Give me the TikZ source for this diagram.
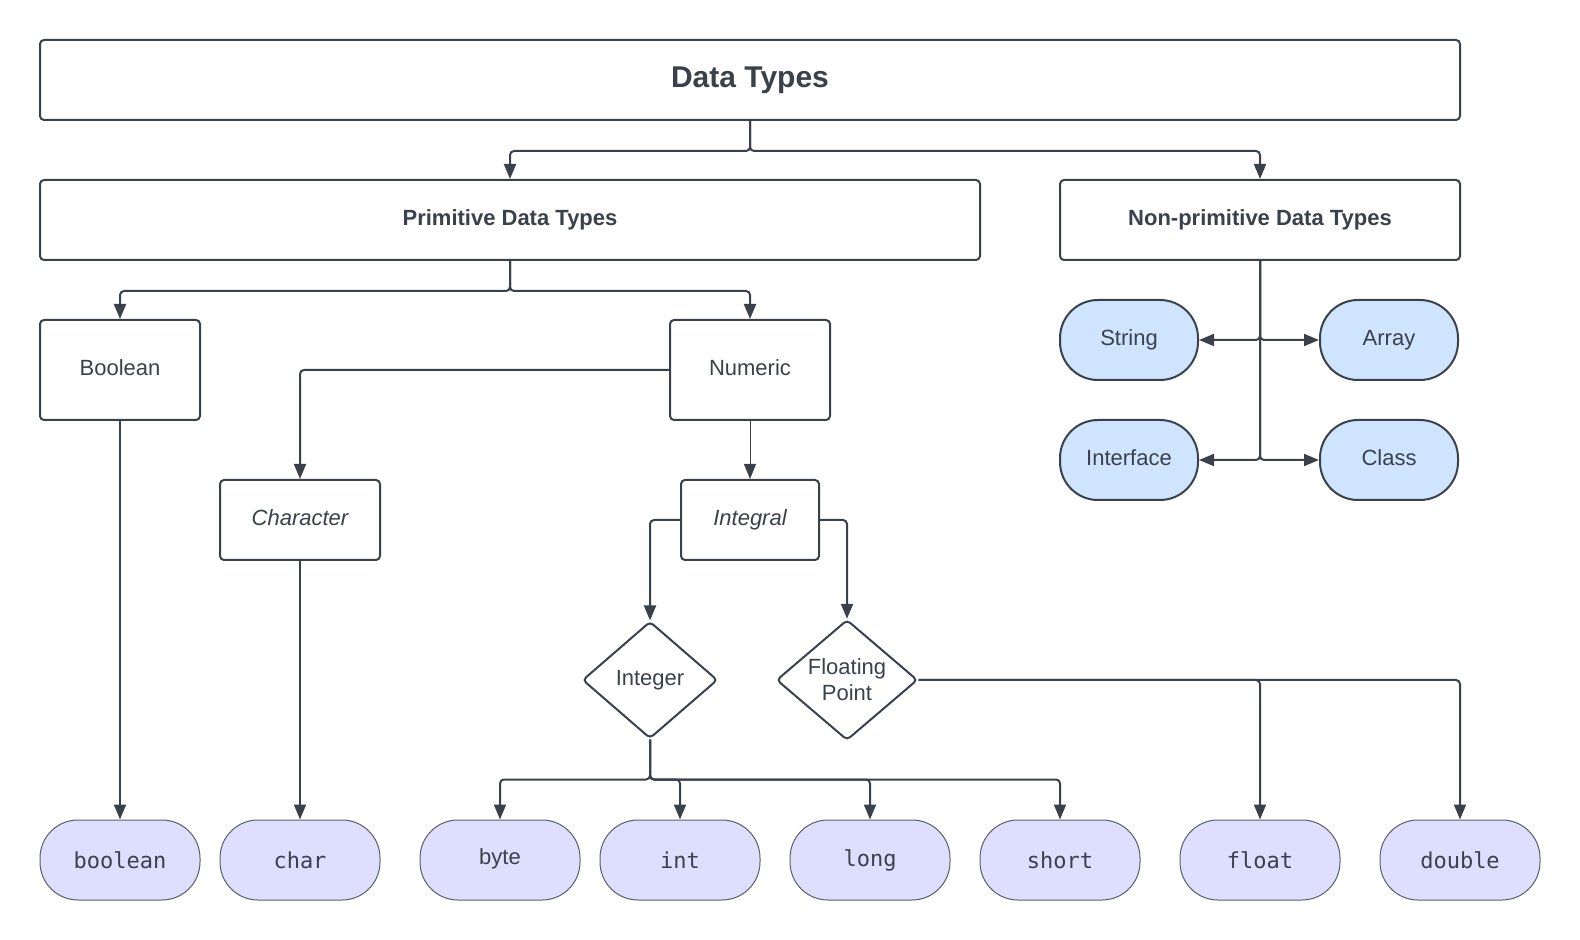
\documentclass[tikz,border=0pt]{standalone}
\usepackage{fontspec}
\setmainfont{Liberation Sans}
\setmonofont{DejaVu Sans Mono}
\usetikzlibrary{positioning,arrows.meta,shapes.geometric}
\definecolor{ink}{HTML}{3A414B}
\definecolor{lavender}{HTML}{DEDEFF}
\definecolor{skyfill}{HTML}{CFE4FF}
\definecolor{rimgray}{HTML}{5A5F66}

\begin{document}
\begin{tikzpicture}[x=0.5pt,y=-0.5pt,font=\fontsize{11}{13}\selectfont,text=ink]
  \tikzset{
    box/.style={draw=ink,line width=1pt,rounded corners=2pt,fill=white,inner sep=2pt,text depth=0.25em},
    head/.style={box,minimum height=40pt,font=\fontsize{11}{13}\selectfont\bfseries},
    kind/.style={box,minimum width=80pt},
    choice/.style={diamond,draw=ink,line width=1pt,rounded corners=2pt,inner sep=0pt,align=center},
    ref/.style={draw=ink,line width=1pt,rounded corners=19pt,fill=skyfill,minimum width=69pt,minimum height=40pt,text depth=0.25em},
    leaf/.style={draw=rimgray,line width=0.5pt,rounded corners=19pt,fill=lavender,minimum width=80pt,minimum height=40pt,font=\fontsize{11}{13}\selectfont\ttfamily},
    link/.style={draw=ink,line width=1pt,rounded corners=2pt,-{Triangle[length=7.5pt,width=6pt]}},
  }
  \useasboundingbox (0,0) rectangle (1580,940);
  % top level
  \node[head,minimum width=710pt,font=\fontsize{15}{18}\selectfont\bfseries] (types) at (750,80) {Data Types};
  \node[head,minimum width=470pt] (prim) at (510,220) {Primitive Data Types};
  \node[head,minimum width=200pt] (nonprim) at (1260,220) {Non-primitive Data Types};
  % primitive side
  \node[kind,minimum height=50pt] (boolbox) at (120,370) {Boolean};
  \node[kind,minimum height=50pt] (numeric) at (750,370) {Numeric};
  \node[kind,minimum height=40pt,font=\fontsize{11}{13}\selectfont\itshape] (character) at (300,520) {Character};
  \node[box,minimum width=69pt,minimum height=40pt,font=\fontsize{11}{13}\selectfont\itshape] (integral) at (750,520) {Integral};
  \node[choice,minimum width=67.5pt,minimum height=58.5pt] (integer) at (650,680) {Integer};
  \node[choice,minimum width=70.5pt,minimum height=58.5pt] (floating) at (847,680) {Floating\\Point};
  % non-primitive side
  \node[ref] (string) at (1129,340) {String};
  \node[ref] (array) at (1389,340) {Array};
  \node[ref] (interface) at (1129,460) {Interface};
  \node[ref] (class) at (1389,460) {Class};
  % java keywords
  \node[leaf] (boolean) at (120,860) {boolean};
  \node[leaf] (char) at (300,860) {char};
  \node[leaf,font=\fontsize{11}{13}\selectfont,text depth=0.35em] (byte) at (500,860) {byte};
  \node[leaf] (int) at (680,860) {int};
  \node[leaf] (long) at (870,860) {long};
  \node[leaf] (short) at (1060,860) {short};
  \node[leaf] (float) at (1260,860) {float};
  \node[leaf] (double) at (1460,860) {double};

  \draw[link] (types.south) -- ++(0,30) -| (prim.north);
  \draw[link] (types.south) -- ++(0,30) -| (nonprim.north);
  \draw[link] (prim.south) -- ++(0,30) -| (boolbox.north);
  \draw[link] (prim.south) -- ++(0,30) -| (numeric.north);
  \draw[link] (nonprim.south) |- (string.east);
  \draw[link] (nonprim.south) |- (array.west);
  \draw[link] (nonprim.south) |- (interface.east);
  \draw[link] (nonprim.south) |- (class.west);
  \draw[link] (numeric.west) -| (character.north);
  \draw[link,line width=0.5pt] (numeric.south) -- (integral.north);
  \draw[link] (integral.west) -| (integer.north);
  \draw[link] (integral.east) -| (floating.north);
  \draw[link] (boolbox.south) -- (boolean.north);
  \draw[link] (character.south) -- (char.north);
  \foreach \k in {byte,int,long,short}
    \draw[link] (integer.south) -- ++(0,40) -| (\k.north);
  \draw[link] (floating.east) -| (float.north);
  \draw[link] (floating.east) -| (double.north);
\end{tikzpicture}
\end{document}
